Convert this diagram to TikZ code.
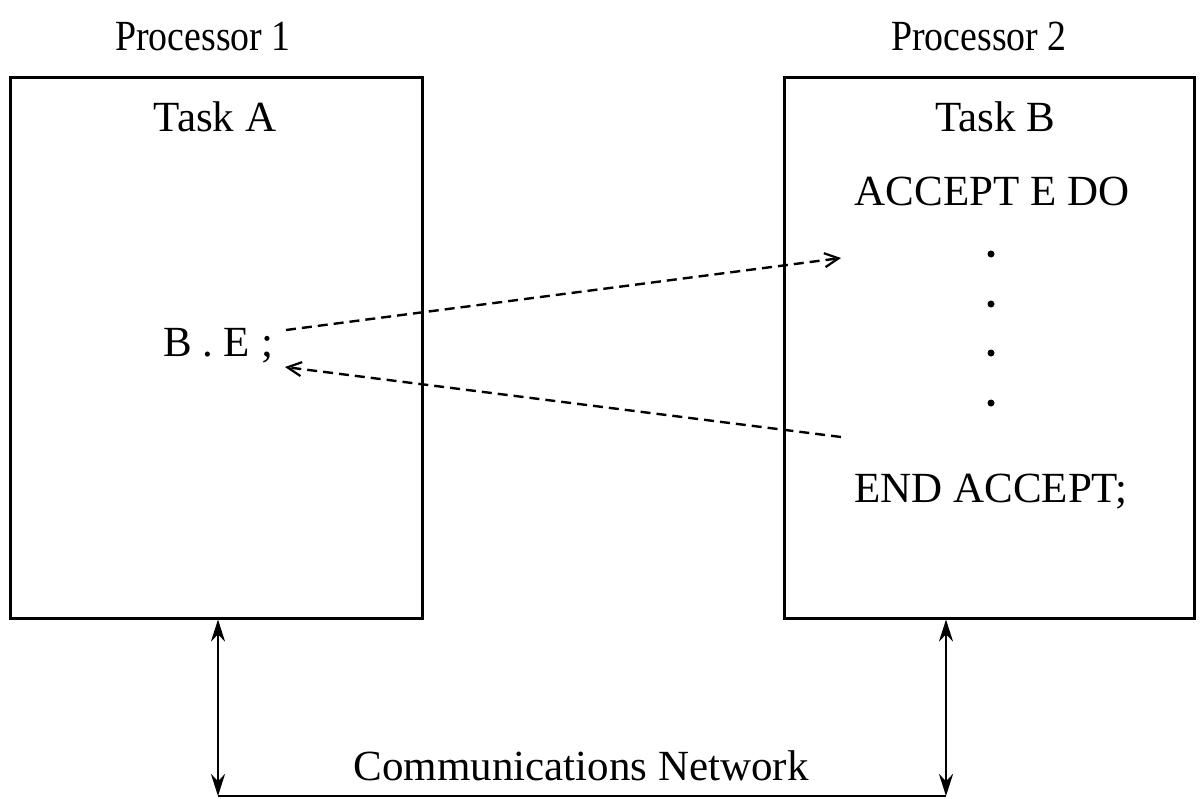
\documentclass[tikz,border=0pt]{standalone}
\usepackage{fontspec}
\setmainfont{Liberation Serif}
\usetikzlibrary{arrows.meta}
\begin{document}
\begin{tikzpicture}[x=1pt,y=-1pt,
  lbl/.style={anchor=base,inner sep=0pt,font=\fontsize{43}{50}\selectfont},
  procbox/.style={draw,line width=3pt,rectangle,inner sep=0pt},
  dotmark/.style={circle,fill,inner sep=0pt,minimum size=7pt},
  msg/.style={dash pattern=on 10pt off 6pt,line width=2.4pt,-{Straight Barb[length=14pt,width=14pt,line width=2.2pt]}},
  link/.style={line width=2.4pt,{Stealth[length=22pt,width=14pt]}-{Stealth[length=22pt,width=14pt]}}]
\useasboundingbox (0,0) rectangle (1204,798);
% boxes
\node[procbox,minimum width=412pt,minimum height=541pt] (boxA) at (216,347.5) {};
\node[procbox,minimum width=410pt,minimum height=541pt] (boxB) at (989,347.5) {};
% labels
\node[lbl] (p1) at (203,50) {\scalebox{0.88}[1]{Processor 1}};
\node[lbl] (p2) at (979,50) {\scalebox{0.88}[1]{Processor 2}};
\node[lbl] (ta) at (215,131) {Task A};
\node[lbl] (tb) at (995,131) {Task B};
\node[lbl] (acc) at (992,205) {ACCEPT E DO};
\node[lbl] (endacc) at (991,502) {END ACCEPT;};
\node[lbl] (be) at (218,356) {B . E ;};
\node[lbl] (net) at (581,780) {Communications Network};
% dots
\node[dotmark] (d1) at (991,254) {};
\node[dotmark] (d2) at (991,304) {};
\node[dotmark] (d3) at (991,353) {};
\node[dotmark] (d4) at (991,403) {};
% message arrows
\coordinate (callstart) at (286,330);
\coordinate (callend) at (841,258);
\coordinate (retstart) at (841,437);
\coordinate (retend) at (285,367);
\draw[msg] (callstart) -- (callend);
\draw[msg] (retstart) -- (retend);
% network
\coordinate (na) at (218,796);
\coordinate (nb) at (946,796);
\draw[link] (boxA.south -| na) -- (na);
\draw[link] (boxB.south -| nb) -- (nb);
\draw[line width=2.4pt] (na) -- (nb);
\end{tikzpicture}
\end{document}
